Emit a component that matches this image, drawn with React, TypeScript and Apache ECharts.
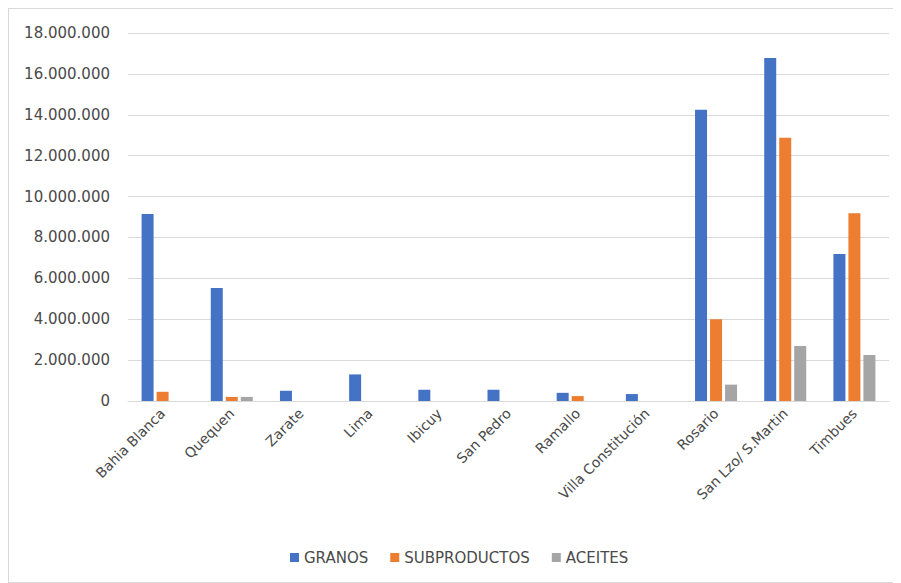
import React, { useEffect, useRef } from "react";
import * as echarts from "echarts";

const categories = [
  "Bahia Blanca",
  "Quequen",
  "Zarate",
  "Lima",
  "Ibicuy",
  "San Pedro",
  "Ramallo",
  "Villa Constitución",
  "Rosario",
  "San Lzo/ S.Martin",
  "Timbues",
];
const granos = [9150000, 5530000, 500000, 1300000, 550000, 550000, 400000, 340000, 14240000, 16780000, 7190000];
const subproductos = [450000, 200000, 0, 0, 0, 0, 240000, 0, 4000000, 12880000, 9180000];
const aceites = [0, 200000, 0, 0, 0, 0, 0, 0, 800000, 2690000, 2250000];
const yTicks = { min: 0, max: 18000000, interval: 2000000 };

const fmt = (v: number) => String(Math.round(v)).replace(/\B(?=(\d{3})+(?!\d))/g, ".");

export default function App() {
  const ref = useRef<HTMLDivElement>(null);
  useEffect(() => {
    const chart = echarts.init(ref.current!, null, { renderer: "svg" });
    const font = "'DejaVu Sans', sans-serif";
    const color = "#4a4a4a";
    chart.setOption({
      animation: false,
      textStyle: { fontFamily: font },
      grid: { left: 119, right: 11, top: 24, bottom: 181, containLabel: false },
      legend: {
        left: 281,
        top: 541,
        padding: 0,
        itemWidth: 9,
        itemHeight: 9,
        itemGap: 22,
        icon: "rect",
        textStyle: { fontSize: 15, color, fontFamily: font },
        data: ["GRANOS", "SUBPRODUCTOS", "ACEITES"],
      },
      xAxis: {
        type: "category",
        data: categories,
        axisTick: { show: false },
        axisLine: { lineStyle: { color: "#d9d9d9", width: 1 } },
        axisLabel: { rotate: 45, fontSize: 14, color, margin: 10, interval: 0, fontFamily: font },
      },
      yAxis: {
        type: "value",
        min: yTicks.min,
        max: yTicks.max,
        interval: yTicks.interval,
        axisLine: { show: false },
        axisTick: { show: false },
        splitLine: { lineStyle: { color: "#d9d9d9", width: 1 } },
        axisLabel: { fontSize: 15, color, margin: 18, formatter: fmt, fontFamily: font },
      },
      series: [
        { name: "GRANOS", type: "bar", data: granos, barWidth: 12, barGap: "25%", itemStyle: { color: "#4472c4" } },
        { name: "SUBPRODUCTOS", type: "bar", data: subproductos, barWidth: 12, barGap: "25%", itemStyle: { color: "#ed7d31" } },
        { name: "ACEITES", type: "bar", data: aceites, barWidth: 12, barGap: "25%", itemStyle: { color: "#a5a5a5" } },
      ],
    });
    return () => chart.dispose();
  }, []);
  return (
    <div style={{ width: 893, height: 575, border: "1px solid #d9d9d9", boxSizing: "border-box", background: "#fff" }}>
      <div ref={ref} style={{ width: 891, height: 573 }} />
    </div>
  );
}
